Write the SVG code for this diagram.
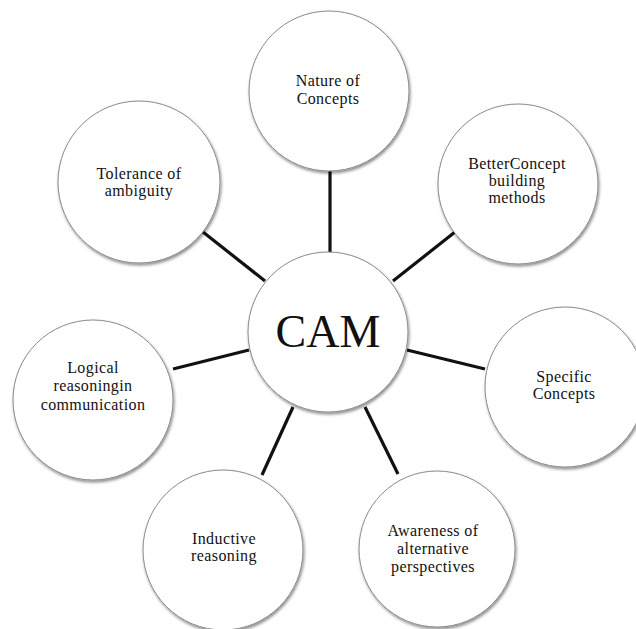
<svg xmlns="http://www.w3.org/2000/svg" width="636" height="629" viewBox="0 0 636 629">
  <style>
    .node circle { fill: #ffffff; stroke: #8a8a8a; stroke-width: 1; filter: url(#shade); }
    .node text { font-family: "Liberation Serif", "Times New Roman", serif; font-size: 16px; fill: #111; text-anchor: middle; letter-spacing: 0.4px; }
    .hub text { font-size: 46px; letter-spacing: 0; }
    .links line { stroke: #111; stroke-width: 3.2; stroke-linecap: butt; }
  </style>
  <defs>
    <filter id="shade" x="-20%" y="-20%" width="140%" height="140%">
      <feDropShadow dx="1" dy="2" stdDeviation="1.6" flood-color="#000" flood-opacity="0.45"/>
    </filter>
  </defs>
  <rect width="636" height="629" fill="#ffffff"/>

  <!-- spokes from the hub to each outer bubble -->
  <g id="connectors" class="links">
    <line x1="330" y1="170" x2="330" y2="253"/>
    <line x1="203" y1="232" x2="265" y2="281"/>
    <line x1="455" y1="232" x2="393" y2="281"/>
    <line x1="173" y1="369" x2="249" y2="350"/>
    <line x1="407" y1="350" x2="485" y2="369"/>
    <line x1="293" y1="407" x2="262" y2="475"/>
    <line x1="365" y1="407" x2="398" y2="474"/>
  </g>

  <g id="cam" class="node hub">
    <circle cx="328" cy="332" r="80"/>
    <text x="328" y="347">CAM</text>
  </g>

  <g id="nature-of-concepts" class="node">
    <circle cx="329" cy="91" r="80"/>
    <text x="328" y="86">Nature of</text>
    <text x="328" y="104">Concepts</text>
  </g>

  <g id="tolerance-of-ambiguity" class="node">
    <circle cx="139" cy="182" r="81"/>
    <text x="139" y="179">Tolerance of</text>
    <text x="139" y="196">ambiguity</text>
  </g>

  <g id="better-concept-building" class="node">
    <circle cx="518" cy="184" r="80"/>
    <text x="517" y="169">BetterConcept</text>
    <text x="517" y="186">building</text>
    <text x="517" y="203">methods</text>
  </g>

  <g id="logical-reasoning" class="node">
    <circle cx="93" cy="400" r="80"/>
    <text x="93" y="373">Logical</text>
    <text x="93" y="391">reasoningin</text>
    <text x="93" y="410">communication</text>
  </g>

  <g id="specific-concepts" class="node">
    <circle cx="565" cy="387" r="80"/>
    <text x="564" y="382">Specific</text>
    <text x="564" y="399">Concepts</text>
  </g>

  <g id="inductive-reasoning" class="node">
    <circle cx="223" cy="550" r="80"/>
    <text x="224" y="544">Inductive</text>
    <text x="224" y="561">reasoning</text>
  </g>

  <g id="awareness-of-perspectives" class="node">
    <circle cx="437" cy="549" r="78"/>
    <text x="433" y="536">Awareness of</text>
    <text x="433" y="554">alternative</text>
    <text x="433" y="572">perspectives</text>
  </g>
</svg>
